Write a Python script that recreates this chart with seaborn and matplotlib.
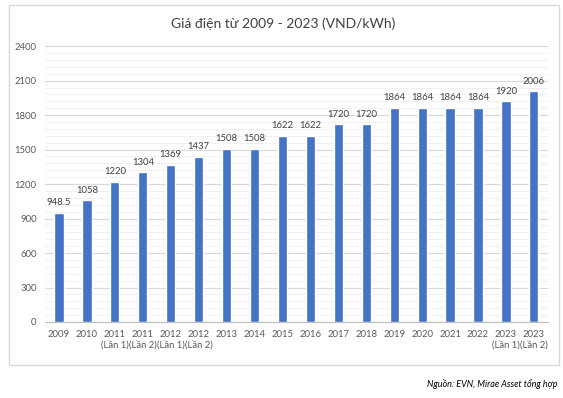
import matplotlib
matplotlib.use("Agg")
import matplotlib.pyplot as plt
from matplotlib.patches import Rectangle
from matplotlib.ticker import MultipleLocator
import seaborn as sns
import pandas as pd

# data
periods = ["2009", "2010", "2011\n(Lần 1)", "2011\n(Lần 2)", "2012\n(Lần 1)", "2012\n(Lần 2)",
           "2013", "2014", "2015", "2016", "2017", "2018", "2019", "2020", "2021", "2022",
           "2023\n(Lần 1)", "2023\n(Lần 2)"]
prices = [948.5, 1058, 1220, 1304, 1369, 1437, 1508, 1508, 1622, 1622, 1720, 1720,
          1864, 1864, 1864, 1864, 1920, 2006]
price_labels = ["948.5", "1058", "1220", "1304", "1369", "1437", "1508", "1508", "1622", "1622",
                "1720", "1720", "1864", "1864", "1864", "1864", "1920", "2006"]

df = pd.DataFrame({"period": periods, "price": prices})

sns.set_style("white")
plt.rcParams["font.family"] = ["Lato", "DejaVu Sans"]

text_col = "#595959"
bar_col = "#4472C4"

fig = plt.figure(figsize=(5.63, 3.98), dpi=100)
fig.patches.append(Rectangle((0.016, 0.083), 0.977, 0.905, transform=fig.transFigure,
                             fill=False, edgecolor="#D9D9D9", linewidth=1))
ax = fig.add_axes([0.08, 0.191, 0.893, 0.693])

sns.barplot(data=df, x="period", y="price", color=bar_col, width=0.33,
            saturation=1, ax=ax, zorder=3)

ax.set_ylim(0, 2400)
ax.yaxis.set_major_locator(MultipleLocator(300))
ax.yaxis.set_minor_locator(MultipleLocator(60))
ax.grid(axis="y", which="major", color="#D9D9D9", linewidth=0.8, zorder=0)
ax.grid(axis="y", which="minor", color="#EEEEEE", linewidth=0.6, zorder=0)
ax.set_axisbelow(True)
ax.set_xlim(-0.5, len(periods) - 0.5)

for s in ["top", "right", "left"]:
    ax.spines[s].set_visible(False)
ax.spines["bottom"].set_color("#BFBFBF")
ax.tick_params(axis="both", length=0, labelsize=6.8, colors=text_col, pad=6)
ax.tick_params(axis="y", which="minor", length=0)
ax.set_xlabel("")
ax.set_ylabel("")

for i, (v, lab) in enumerate(zip(prices, price_labels)):
    ax.annotate(lab, (i, v), xytext=(0, 4), textcoords="offset points",
                ha="center", va="bottom", fontsize=6.8, color="#404040")

fig.text(0.503, 0.94, "Giá điện từ 2009 - 2023 (VND/kWh)", ha="center", va="center",
         fontsize=10, color="#404040")
fig.text(0.99, 0.035, "Nguồn: EVN, Mirae Asset tổng hợp", ha="right", va="center",
         fontsize=6.5, style="italic", color="#000000")

fig.savefig("out.png", dpi=100)
